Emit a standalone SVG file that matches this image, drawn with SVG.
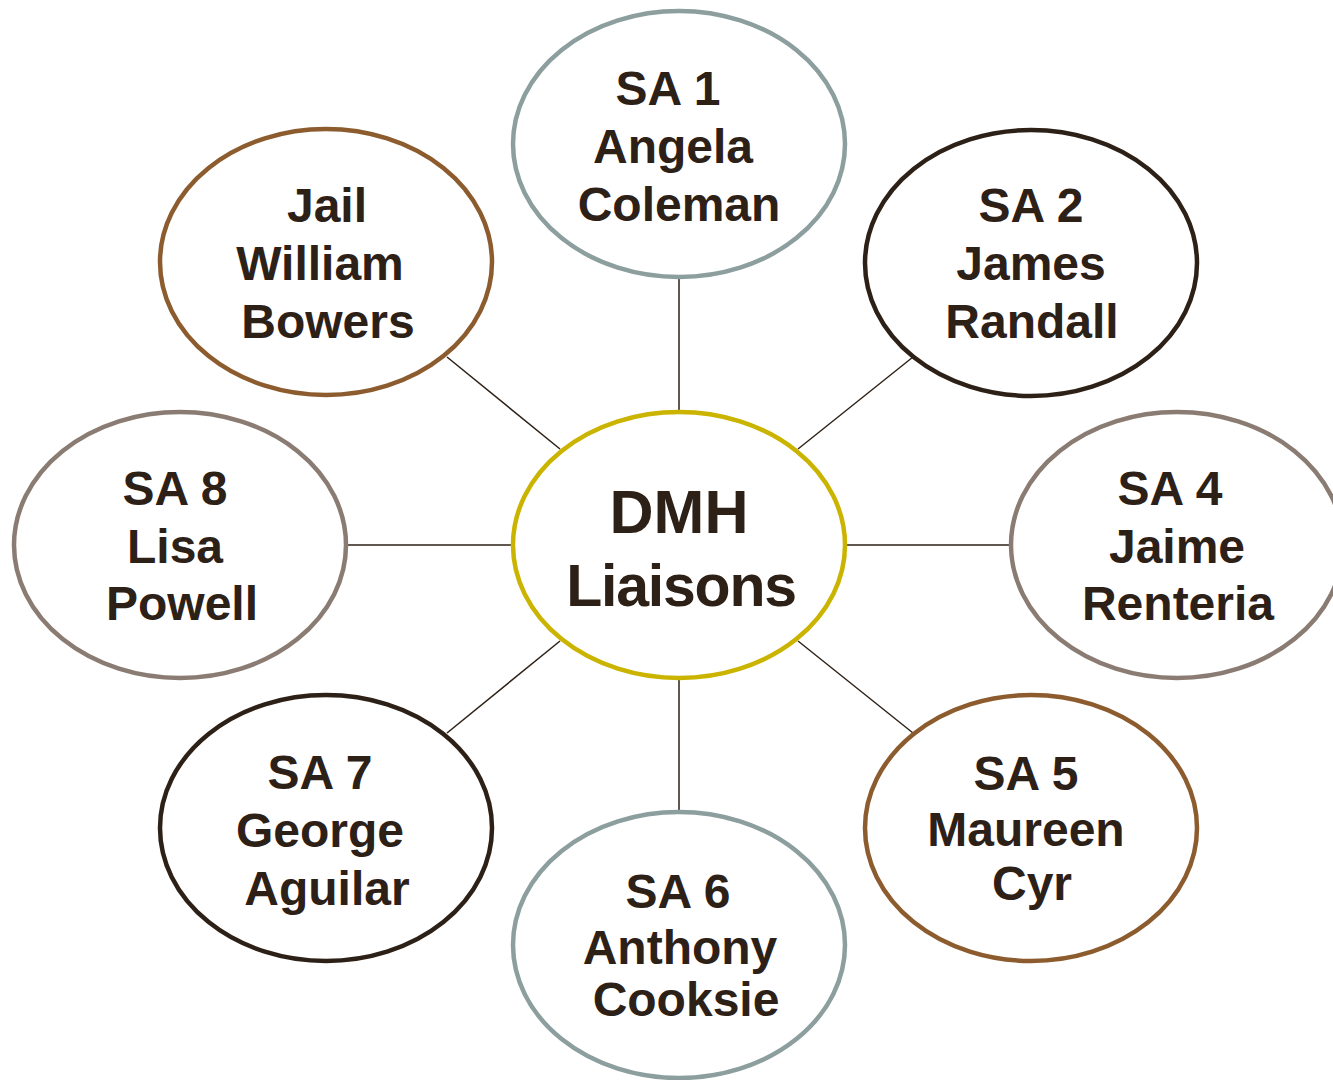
<svg xmlns="http://www.w3.org/2000/svg" width="1333" height="1080" viewBox="0 0 1333 1080">
<style>
.node{fill:#fff;stroke-width:4.5}
.t{font-family:"Liberation Sans",Arial,sans-serif;font-weight:bold;font-size:48px;fill:#2d2117;text-anchor:middle}
.c{font-size:61px}
.edge{stroke:#2d2117;stroke-width:1.5;fill:none}
.blue{stroke:#8c9e9e}.dark{stroke:#2d2117}.brown{stroke:#8c5c2e}.gray{stroke:#8a7c72}.gold{stroke:#cbb400}
</style>
<rect width="1333" height="1080" fill="#fff"/>
<g id="connectors">
<line class="edge" x1="679" y1="279" x2="679" y2="411"/>
<line class="edge" x1="913" y1="357" x2="798" y2="449"/>
<line class="edge" x1="447" y1="357" x2="560" y2="449"/>
<line class="edge" x1="348" y1="545" x2="512" y2="545"/>
<line class="edge" x1="846" y1="545" x2="1010" y2="545"/>
<line class="edge" x1="447" y1="733" x2="560" y2="641"/>
<line class="edge" x1="913" y1="733" x2="798" y2="641"/>
<line class="edge" x1="679" y1="679" x2="679" y2="811"/>
</g>
<g id="center">
<ellipse class="node gold" cx="679" cy="545" rx="166" ry="133"/>
<text class="t c" x="679" y="533">DMH</text>
<text class="t c" x="681" y="606" style="font-size:59px;letter-spacing:-1.2px">Liaisons</text>
</g>
<g id="sa1">
<ellipse class="node blue" cx="679" cy="144" rx="166" ry="133"/>
<text class="t" x="668" y="105">SA 1</text>
<text class="t" x="673" y="163">Angela</text>
<text class="t" x="679" y="221">Coleman</text>
</g>
<g id="sa2">
<ellipse class="node dark" cx="1031" cy="263" rx="166" ry="133"/>
<text class="t" x="1031" y="222">SA 2</text>
<text class="t" x="1031" y="280">James</text>
<text class="t" x="1032" y="338">Randall</text>
</g>
<g id="jail">
<ellipse class="node brown" cx="326" cy="262" rx="166" ry="133"/>
<text class="t" x="327" y="222">Jail</text>
<text class="t" x="320" y="280">William</text>
<text class="t" x="328" y="338">Bowers</text>
</g>
<g id="sa8">
<ellipse class="node gray" cx="180" cy="545" rx="166" ry="133"/>
<text class="t" x="175" y="505">SA 8</text>
<text class="t" x="175" y="563">Lisa</text>
<text class="t" x="182" y="620">Powell</text>
</g>
<g id="sa4">
<ellipse class="node gray" cx="1177" cy="545" rx="166" ry="133"/>
<text class="t" x="1170" y="505">SA 4</text>
<text class="t" x="1177" y="563">Jaime</text>
<text class="t" x="1178" y="620">Renteria</text>
</g>
<g id="sa7">
<ellipse class="node dark" cx="326" cy="828" rx="166" ry="133"/>
<text class="t" x="320" y="789">SA 7</text>
<text class="t" x="320" y="847">George</text>
<text class="t" x="327" y="905">Aguilar</text>
</g>
<g id="sa5">
<ellipse class="node brown" cx="1031" cy="828" rx="166" ry="133"/>
<text class="t" x="1026" y="790">SA 5</text>
<text class="t" x="1026" y="846">Maureen</text>
<text class="t" x="1032" y="900">Cyr</text>
</g>
<g id="sa6">
<ellipse class="node blue" cx="679" cy="945" rx="166" ry="133"/>
<text class="t" x="678" y="908">SA 6</text>
<text class="t" x="680" y="964">Anthony</text>
<text class="t" x="686" y="1016">Cooksie</text>
</g>
</svg>
